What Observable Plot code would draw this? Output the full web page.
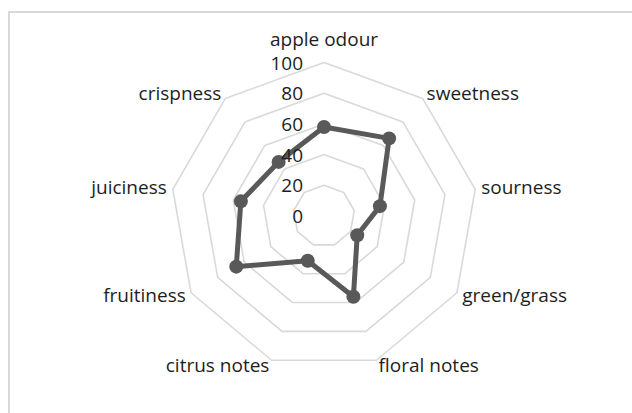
<!DOCTYPE html>
<html>
<head>
<meta charset="utf-8">
<script src="https://cdn.jsdelivr.net/npm/d3@7"></script>
<script src="https://cdn.jsdelivr.net/npm/@observablehq/plot@0.6"></script>
<style>
  html, body { margin: 0; padding: 0; background: #fff; }
  #wrap { position: relative; width: 632px; height: 413px; overflow: hidden; }
  #border { position: absolute; left: 8px; top: 11px; width: 640px; height: 420px;
            border-left: 2px solid #d9d9d9; border-top: 2px solid #d9d9d9; box-sizing: border-box; }
  #chart { position: absolute; left: 0; top: 0; }
</style>
</head>
<body>
<div id="wrap"><div id="border"></div><div id="chart"></div></div>
<script>
const categories = ["apple odour", "sweetness", "sourness", "green/grass", "floral notes",
                    "citrus notes", "fruitiness", "juiciness", "crispness"];
const values = [58, 66, 37, 25, 56, 31, 66, 55, 46];
const ticks = [0, 20, 40, 60, 80, 100];
const maxValue = 100;

const n = categories.length;
const ang = i => (i * 2 * Math.PI) / n;
const polar = (v, i) => ({x: v * Math.sin(ang(i)), y: v * Math.cos(ang(i))});

// grid rings (nonagons)
const rings = [];
for (const t of ticks.filter(t => t > 0)) {
  for (let i = 0; i <= n; i++) rings.push({ring: t, ...polar(t, i % n)});
}

// series (closed)
const pts = values.map((v, i) => ({cat: categories[i], value: v, ...polar(v, i)}));
const closed = [...pts, pts[0]];

// category labels just outside the outer ring
const labels = categories.map((c, i) => {
  const s = Math.sin(ang(i));
  return {text: c, side: s > 0.01 ? "start" : s < -0.01 ? "end" : "middle", ...polar(maxValue * 1.04, i)};
});

// tick labels along the top spoke
const tickLabels = ticks.map(t => ({text: String(t), x: 0, y: t}));

const k = 1.535; // px per value unit
const cx = 323.5, cy = 215.5;

const chart = Plot.plot({
  width: 632,
  height: 413,
  margin: 0,
  x: {domain: [-cx / k, (632 - cx) / k], axis: null},
  y: {domain: [-(413 - cy) / k, cy / k], axis: null},
  style: {fontFamily: "'Open Sans', sans-serif", fontSize: "19px", color: "#1e1e1e", background: "transparent"},
  marks: [
    Plot.line(rings, {x: "x", y: "y", z: "ring", stroke: "#d9d9d9", strokeWidth: 1.6}),
    Plot.line(closed, {x: "x", y: "y", stroke: "#595959", strokeWidth: 5, strokeLinejoin: "round"}),
    Plot.dot(pts, {x: "x", y: "y", r: 7, fill: "#595959", stroke: "none"}),
    Plot.text(tickLabels, {x: "x", y: "y", text: "text", textAnchor: "end", dx: -21, dy: 1}),
    Plot.text(labels, {filter: d => d.side === "start", x: "x", y: "y", text: "text", textAnchor: "start"}),
    Plot.text(labels, {filter: d => d.side === "end", x: "x", y: "y", text: "text", textAnchor: "end"}),
    Plot.text(labels, {filter: d => d.side === "middle", x: "x", y: "y", text: "text", textAnchor: "middle", dy: -16})
  ]
});
document.getElementById("chart").appendChild(chart);
</script>
</body>
</html>
